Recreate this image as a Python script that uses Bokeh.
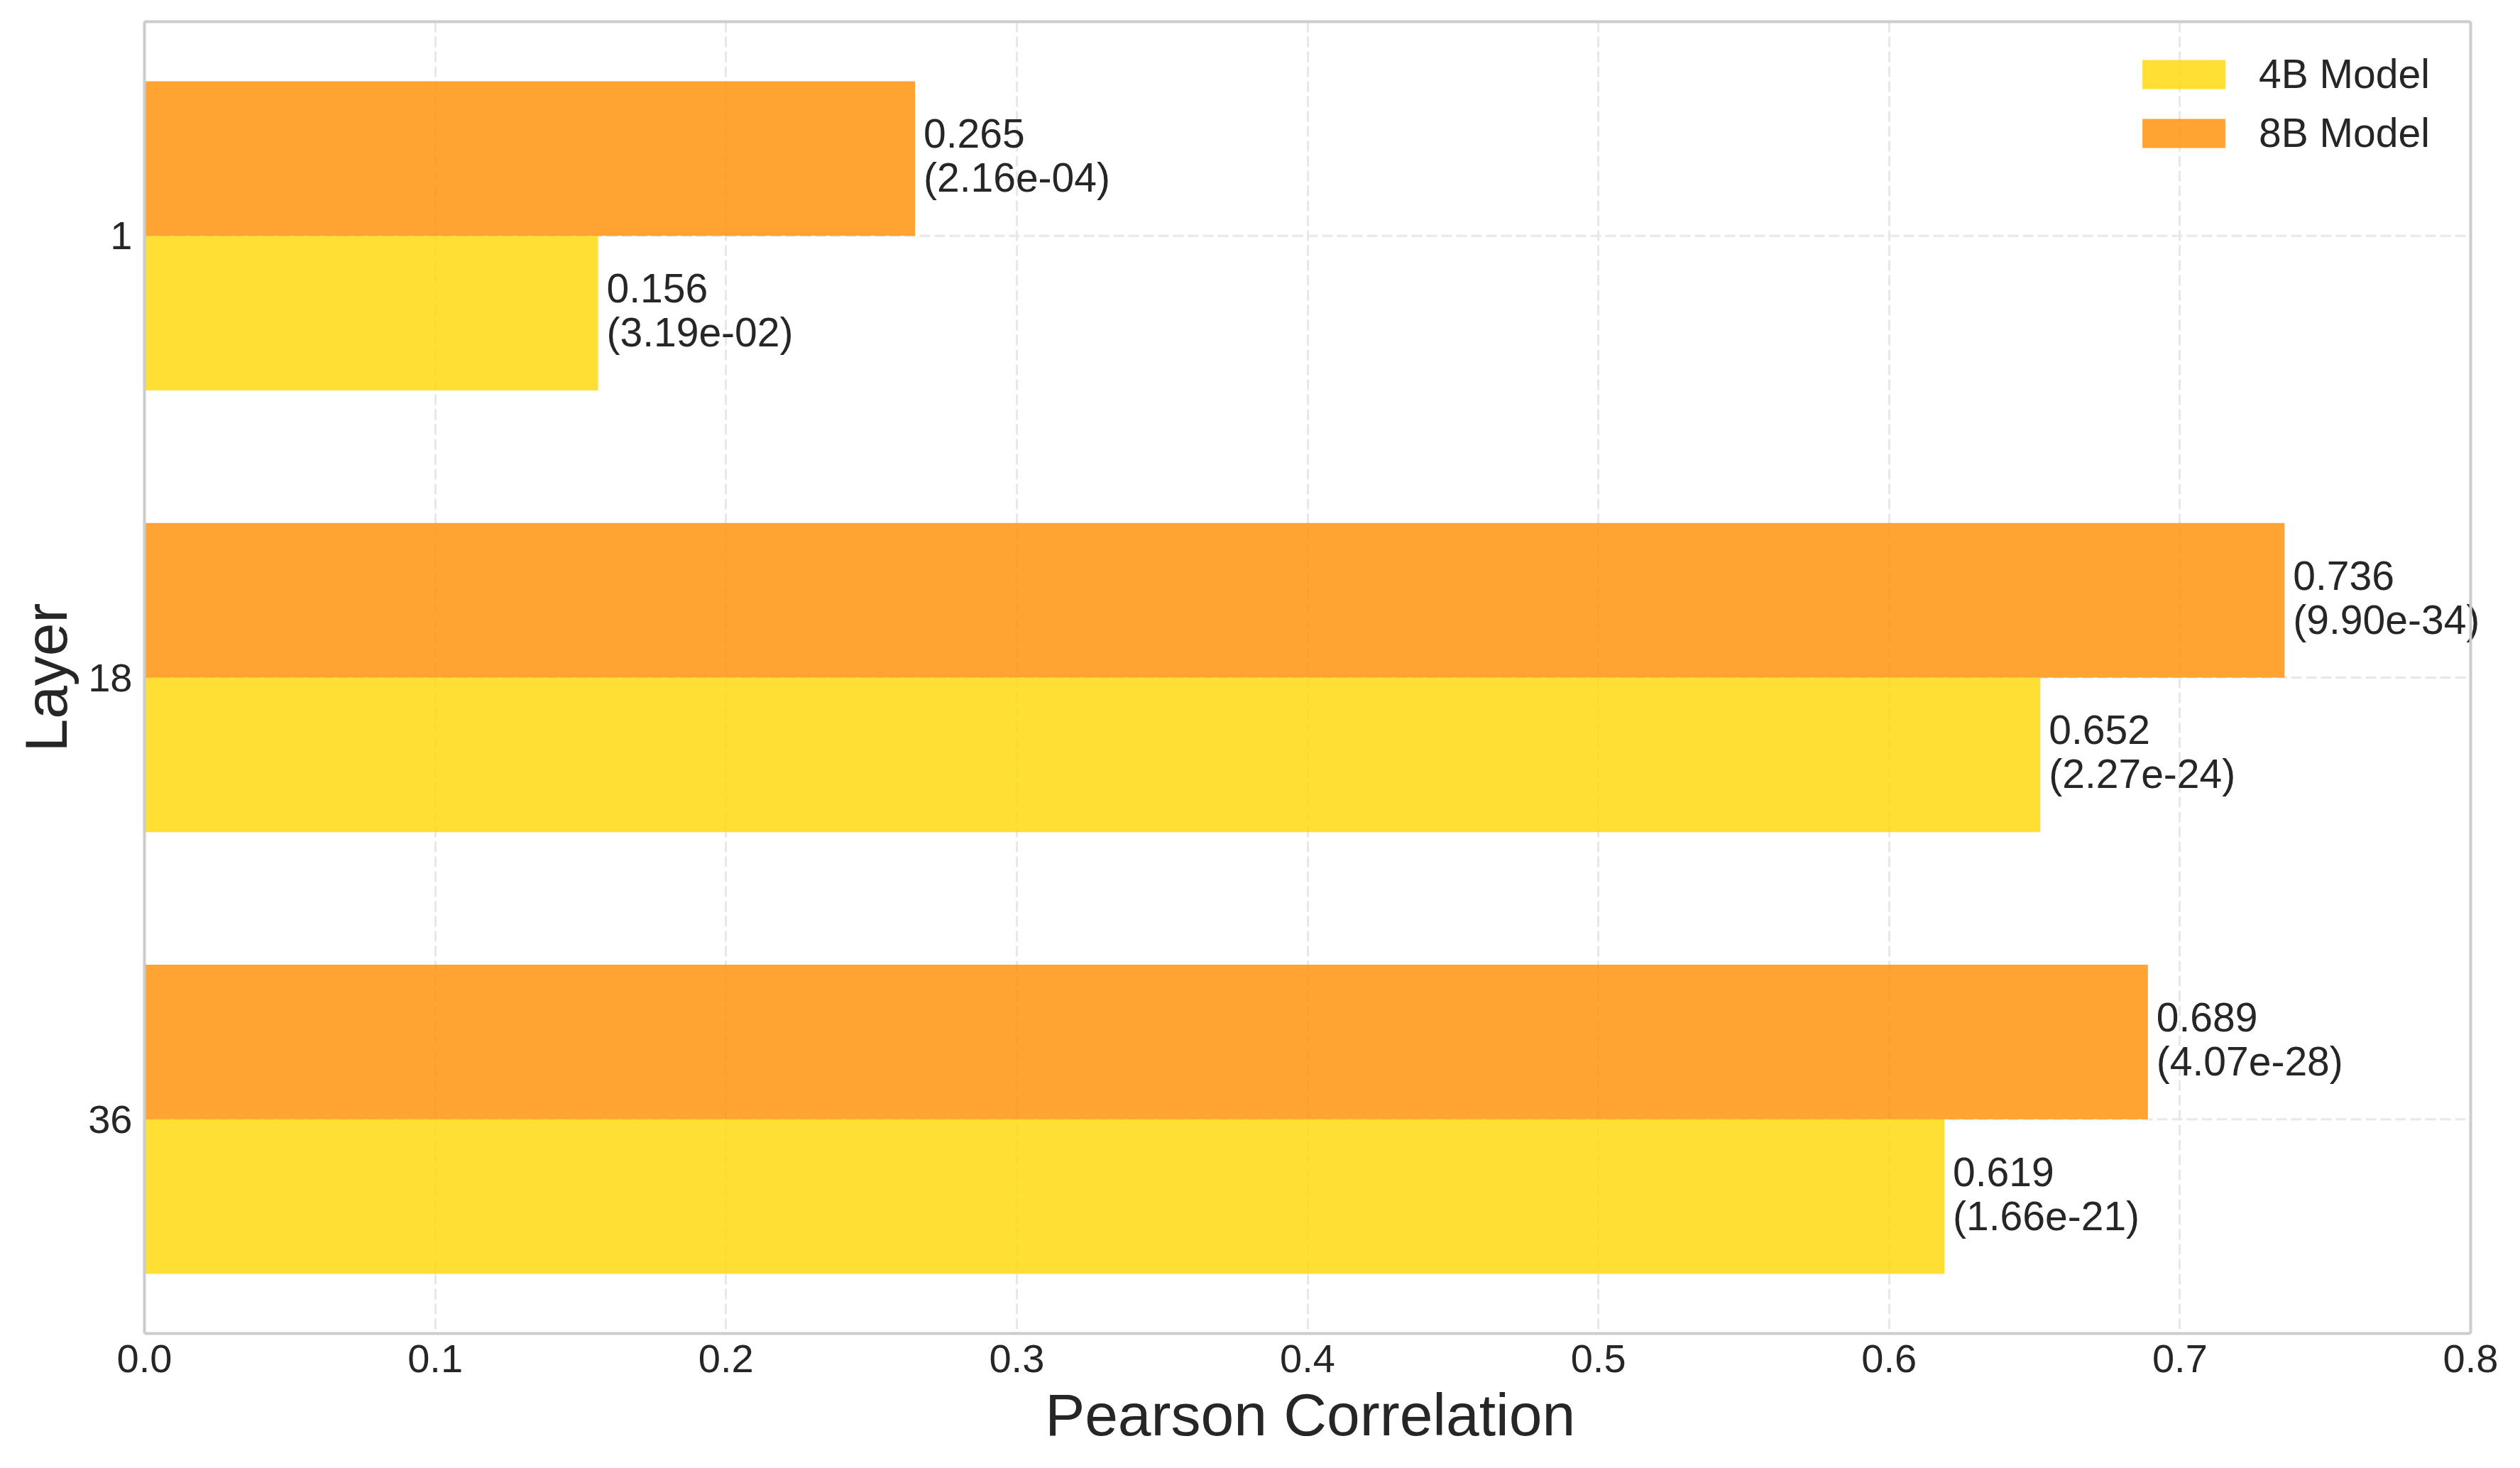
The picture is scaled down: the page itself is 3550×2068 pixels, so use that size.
import numpy as np
from bokeh.plotting import figure
from bokeh.models import (ColumnDataSource, Range1d, FixedTicker, NumeralTickFormatter, Legend,
                          LegendItem, LabelSet, LinearAxis, Span)
from bokeh.transform import dodge
from bokeh.core.properties import value
from bokeh.embed import file_html
from bokeh.resources import INLINE

# ---- data ----
layers = ["1", "18", "36"]
corr_4b = [0.156, 0.652, 0.619]
pval_4b = [3.19e-02, 2.27e-24, 1.66e-21]
corr_8b = [0.265, 0.736, 0.689]
pval_8b = [2.16e-04, 9.90e-34, 4.07e-28]
x_ticks = [0.0, 0.1, 0.2, 0.3, 0.4, 0.5, 0.6, 0.7, 0.8]
series_names = ["4B Model", "8B Model"]
x_title = "Pearson Correlation"
y_title = "Layer"

FONT = "Liberation Sans"
TXT = "#262626"
YELLOW = "#FFD700"
ORANGE = "#FF8C00"
SPINE = "#cccccc"
GRID = "#e8e8e8"

# layout: visible frame is 3277 px wide; the drawing area extends a bit further
# to the right so that annotation text may overflow the frame like the original
W, H = 3534, 2052
LEFT, TOP, BOTTOM = 203, 30, 174
VIS_W = 3277
EXT_W = W - LEFT
x_lo, x_hi = x_ticks[0], x_ticks[-1]
x_end = x_lo + (x_hi - x_lo) * EXT_W / VIS_W

pos = list(range(len(layers)))
src4 = ColumnDataSource(dict(pos=pos, corr=corr_4b,
                             label=[f"{c:.3f}\n({p:.2e})" for c, p in zip(corr_4b, pval_4b)]))
src8 = ColumnDataSource(dict(pos=pos, corr=corr_8b,
                             label=[f"{c:.3f}\n({p:.2e})" for c, p in zip(corr_8b, pval_8b)]))
grid_src = ColumnDataSource(dict(y=pos, x0=[x_lo] * len(pos), x1=[x_hi] * len(pos)))

bar_h = 0.35
n = len(layers)
p = figure(width=W, height=H, output_backend="svg", toolbar_location=None,
           x_range=Range1d(x_lo, x_end),
           y_range=Range1d(n - 1 + bar_h + 0.135, -bar_h - 0.135),
           min_border_left=LEFT, min_border_top=TOP, min_border_right=0, min_border_bottom=BOTTOM)

p.background_fill_color = "white"
p.border_fill_color = "white"
p.outline_line_color = None

# horizontal grid lines (only inside the visible frame)
p.ygrid.visible = False
p.segment(x0="x0", x1="x1", y0="y", y1="y", source=grid_src, line_color=GRID,
          line_width=3, line_dash="15 6", level="underlay")
p.xgrid.grid_line_color = GRID
p.xgrid.grid_line_width = 3
p.xgrid.grid_line_dash = "15 6"
p.xgrid.ticker = FixedTicker(ticks=x_ticks)

yr = p.y_range
r4 = p.hbar(y=dodge("pos", bar_h / 2, range=yr), right="corr", left=0, height=bar_h, source=src4,
            fill_color=YELLOW, fill_alpha=0.8, line_color=None)
r8 = p.hbar(y=dodge("pos", -bar_h / 2, range=yr), right="corr", left=0, height=bar_h, source=src8,
            fill_color=ORANGE, fill_alpha=0.8, line_color=None)

for s, off in ((src4, bar_h / 2), (src8, -bar_h / 2)):
    ls = LabelSet(x="corr", y=dodge("pos", off, range=yr), text="label", source=s,
                  x_offset=12, y_offset=4, text_align="left", text_baseline="middle",
                  text_font=value(FONT), text_font_size="57px", text_color=TXT,
                  text_line_height=0.97)
    p.add_layout(ls)

# axes
p.xaxis.ticker = FixedTicker(ticks=x_ticks)
p.xaxis.formatter = NumeralTickFormatter(format="0.0")
p.xaxis.bounds = (x_lo, x_hi)
p.yaxis.ticker = FixedTicker(ticks=pos)
p.yaxis.major_label_overrides = {i: l for i, l in zip(pos, layers)}

# trailing no-break spaces re-centre the label on the visible frame
p.xaxis.axis_label = x_title + "\u00a0\u00a0"
p.yaxis.axis_label = y_title
for ax in (p.xaxis, p.yaxis):
    ax.axis_line_color = SPINE
    ax.axis_line_width = 4
    ax.major_tick_line_color = None
    ax.minor_tick_line_color = None
    ax.major_label_text_font = FONT
    ax.major_label_text_font_size = "56px"
    ax.major_label_text_color = TXT
    ax.axis_label_text_font = FONT
    ax.axis_label_text_font_size = "84px"
    ax.axis_label_text_color = TXT
    ax.axis_label_text_font_style = "normal"
p.xaxis.major_label_standoff = 10
p.xaxis.axis_label_standoff = 10
p.yaxis.major_label_standoff = 11
p.yaxis.axis_label_standoff = 9

# top spine and right spine
top_axis = LinearAxis(ticker=FixedTicker(ticks=[]), bounds=(x_lo, x_hi),
                      axis_line_color=SPINE, axis_line_width=4,
                      major_tick_line_color=None, minor_tick_line_color=None,
                      major_label_text_font_size="0px")
p.add_layout(top_axis, "above")
p.add_layout(Span(location=x_hi, dimension="height", line_color=SPINE, line_width=4))

legend = Legend(items=[LegendItem(label=series_names[0], renderers=[r4]),
                       LegendItem(label=series_names[1], renderers=[r8])],
                location=(2800, 1658))
legend.border_line_color = None
legend.background_fill_alpha = 0.0
legend.label_text_font = FONT
legend.label_text_font_size = "57px"
legend.label_text_color = TXT
legend.glyph_width = 146
legend.glyph_height = 51
legend.label_standoff = 33
legend.spacing = 17
legend.margin = 0
legend.padding = 17
p.add_layout(legend)

open("out.html", "w").write(file_html(p, INLINE))
